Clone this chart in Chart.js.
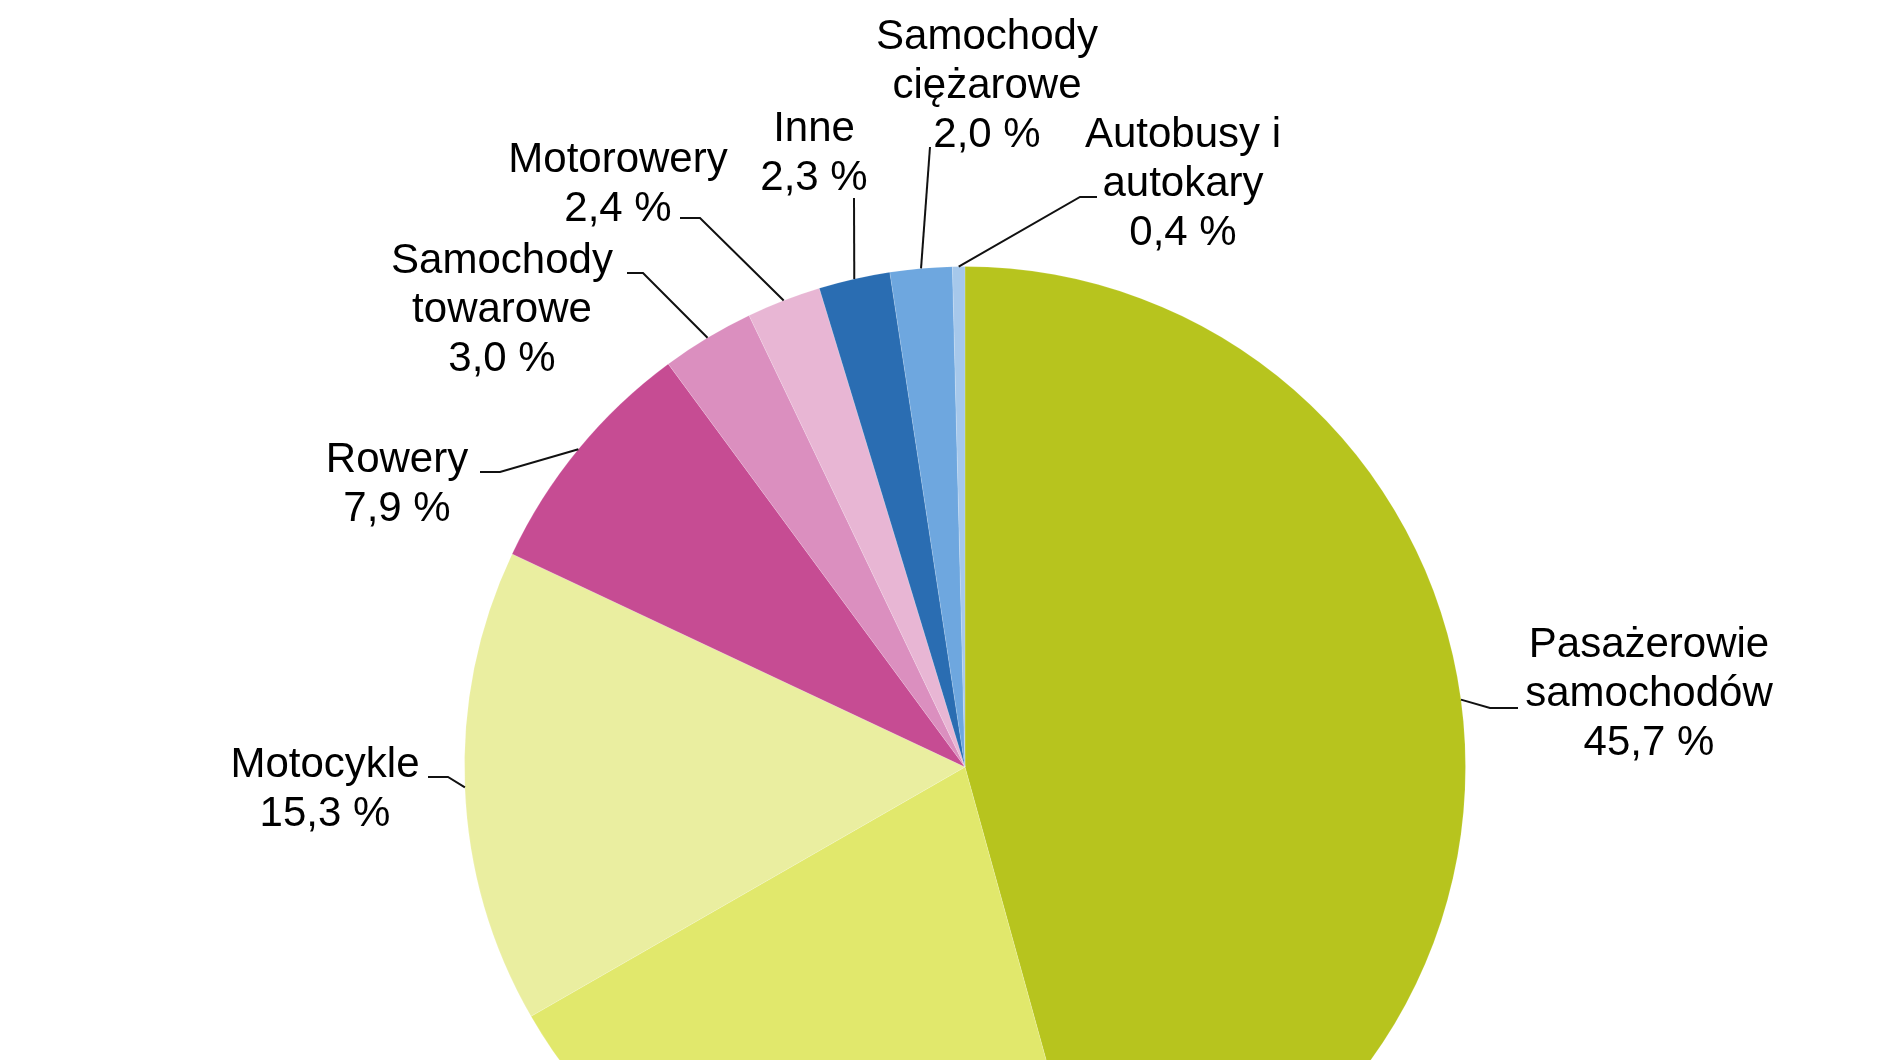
<!DOCTYPE html>
<html lang="pl">
<head>
<meta charset="utf-8">
<title>Ofiary wypadków drogowych</title>
<script src="https://cdn.jsdelivr.net/npm/chart.js@4/dist/chart.umd.min.js"></script>
<style>
  html, body { margin: 0; padding: 0; background: #fff; overflow: hidden; }
  #wykres { display: block; }
</style>
</head>
<body>
<canvas id="wykres" width="1880" height="1534"></canvas>
<script>
const kategorie = [
  "Pasażerowie samochodów",
  "Piesi",
  "Motocykle",
  "Rowery",
  "Samochody towarowe",
  "Motorowery",
  "Inne",
  "Samochody ciężarowe",
  "Autobusy i autokary",
];
const udzialy = [45.7, 21.0, 15.3, 7.9, 3.0, 2.4, 2.3, 2.0, 0.4];
const etykiety = [
  ["Pasażerowie", "samochodów"],
  ["Piesi"],
  ["Motocykle"],
  ["Rowery"],
  ["Samochody", "towarowe"],
  ["Motorowery"],
  ["Inne"],
  ["Samochody", "ciężarowe"],
  ["Autobusy i", "autokary"],
];
const kolory = [
  "#b7c41e",
  "#e1e86c",
  "#eaeea0",
  "#c64c93",
  "#db8fbf",
  "#e8b6d4",
  "#2a6db2",
  "#6ea7df",
  "#a6c8eb",
];

// polozenie etykiet wzgledem srodka kola: tekst (srodek, pierwsza linia bazowa), zalamanie i koniec linii
const ukladEtykiet = [
  { tx: 684, ty: -110, lamanie: [525, -59], koniec: [553, -59] },
  { tx: -260, ty: 560, lamanie: null, koniec: null },
  { tx: -640, ty: 10, lamanie: [-517, 10], koniec: [-537, 10] },
  { tx: -568, ty: -295, lamanie: [-465, -295], koniec: [-485, -295] },
  { tx: -463, ty: -494, lamanie: [-322, -494], koniec: [-338, -494] },
  { tx: -347, ty: -595, lamanie: [-265, -549], koniec: [-285, -549] },
  { tx: -151, ty: -626, lamanie: [-111, -569], koniec: [-111, -569] },
  { tx: 22, ty: -718, lamanie: [-35, -620], koniec: [-35, -620] },
  { tx: 218, ty: -620, lamanie: [115, -570], koniec: [132, -570] },
];

function procent(v) {
  return v.toFixed(1).replace(".", ",") + " %";
}

const etykietyPlugin = {
  id: "etykiety",
  afterDraw(chart) {
    const c = chart.ctx;
    const meta = chart.getDatasetMeta(0);
    c.save();
    c.font = "42px 'Liberation Sans', Arial, sans-serif";
    c.fillStyle = "#000";
    c.strokeStyle = "#111";
    c.lineWidth = 2;
    c.textAlign = "center";
    c.textBaseline = "alphabetic";
    meta.data.forEach((luk, i) => {
      const p = luk.getProps(["x", "y", "startAngle", "endAngle", "outerRadius"], true);
      const u = ukladEtykiet[i];
      const srodek = (p.startAngle + p.endAngle) / 2;
      if (u.lamanie) {
        const ex = p.x + Math.cos(srodek) * p.outerRadius;
        const ey = p.y + Math.sin(srodek) * p.outerRadius;
        c.beginPath();
        c.moveTo(ex, ey);
        c.lineTo(p.x + u.lamanie[0], p.y + u.lamanie[1]);
        c.lineTo(p.x + u.koniec[0], p.y + u.koniec[1]);
        c.stroke();
      }
      const linie = etykiety[i].concat([procent(udzialy[i])]);
      linie.forEach((t, j) => {
        c.fillText(t, p.x + u.tx, p.y + u.ty + j * 49);
      });
    });
    c.restore();
  },
};

document.addEventListener("DOMContentLoaded", function () {
  var ctx = document.getElementById("wykres").getContext("2d");
  var wykres = new Chart(ctx, {
    type: "pie",
    data: {
      labels: kategorie,
      datasets: [
        {
          data: udzialy,
          backgroundColor: kolory,
          borderColor: "rgba(255, 255, 255, 0.15)",
          borderWidth: 1,
        },
      ],
    },
    options: {
      responsive: false,
      animation: false,
      layout: {
        padding: { left: 464, right: 414, top: 266, bottom: 266 },
      },
      plugins: {
        legend: { display: false },
        title: { display: false },
        tooltip: { enabled: false },
      },
    },
    plugins: [etykietyPlugin],
  });
});
</script>
</body>
</html>
